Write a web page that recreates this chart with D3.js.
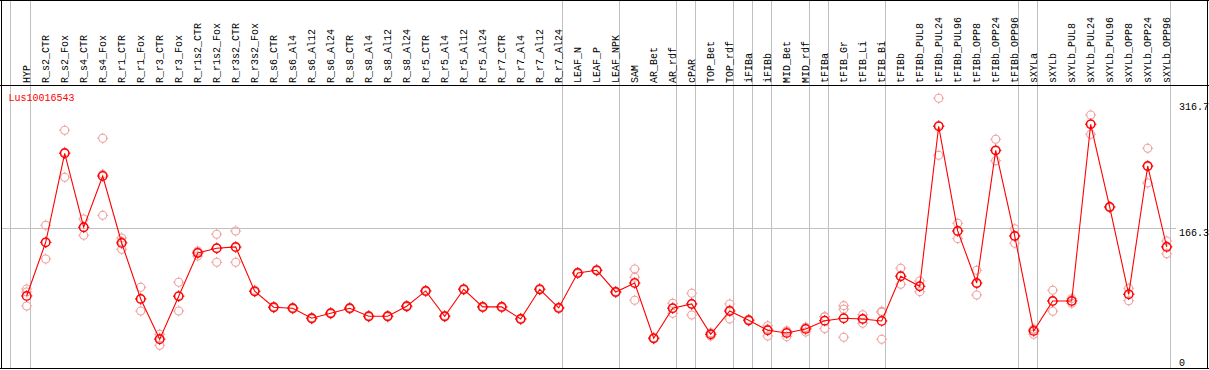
<!DOCTYPE html>
<html>
<head>
<meta charset="utf-8">
<script src="https://cdnjs.cloudflare.com/ajax/libs/d3/7.8.5/d3.min.js"></script>
<style>
  body { margin: 0; background: #fff; }
  svg text { font-family: "Liberation Mono", "DejaVu Sans Mono", monospace; font-size: 10px; }
</style>
</head>
<body>
<script>
var gene = "Lus10016543";

var samples = ["HYP",
  "R_s2_CTR", "R_s2_Fox", "R_s4_CTR", "R_s4_Fox", "R_r1_CTR", "R_r1_Fox", "R_r3_CTR", "R_r3_Fox",
  "R_r1s2_CTR", "R_r1s2_Fox", "R_r3s2_CTR", "R_r3s2_Fox",
  "R_s6_CTR", "R_s6_Al4", "R_s6_Al12", "R_s6_Al24", "R_s8_CTR", "R_s8_Al4", "R_s8_Al12", "R_s8_Al24",
  "R_r5_CTR", "R_r5_Al4", "R_r5_Al12", "R_r5_Al24", "R_r7_CTR", "R_r7_Al4", "R_r7_Al12", "R_r7_Al24",
  "LEAF_N", "LEAF_P", "LEAF_NPK",
  "SAM", "AR_Bet", "AR_rdf",
  "cPAR",
  "TOP_Bet", "TOP_rdf",
  "iFIBa",
  "iFIBb",
  "MID_Bet", "MID_rdf",
  "tFIBa",
  "tFIB_Gr", "tFIB_Li", "tFIB_Bi",
  "tFIBb", "tFIBb_PUL8", "tFIBb_PUL24", "tFIBb_PUL96", "tFIBb_OPP8", "tFIBb_OPP24", "tFIBb_OPP96",
  "sXYLa",
  "sXYLb", "sXYLb_PUL8", "sXYLb_PUL24", "sXYLb_PUL96", "sXYLb_OPP8", "sXYLb_OPP24", "sXYLb_OPP96"];

// number of samples in each block (grey separators between blocks)
var groupSizes = [1, 28, 3, 3, 1, 2, 1, 1, 2, 1, 3, 7, 1, 7];

var means = [88.0,
  150.1, 253.1, 167.5, 226.8, 149.3, 84.5, 37.9, 87.6,
  137.7, 143.2, 144.7, 93.4,
  74.9, 73.8, 62.2, 68.0, 73.8, 64.5, 64.5, 76.1,
  93.8, 64.5, 95.7, 75.3, 75.3, 61.4, 95.7, 74.1,
  114.6, 117.7, 92.6,
  103.0, 39.0, 73.8,
  78.7,
  43.7, 70.6,
  59.9,
  48.3,
  45.2, 49.8,
  59.4,
  62.2, 61.4, 59.1,
  110.8, 99.2, 284.3, 163.2, 103.0, 256.5, 157.4,
  47.5,
  82.2, 82.2, 286.6, 190.9, 89.9, 238.4, 144.7];

var replicates = [[96.1, 92.6, 76.4],
  [169.8, 149.7, 130.8], [279.7, 254.3, 225.3], [177.1, 167.2, 158.2], [270.4, 228.7, 181.3],
  [155.1, 150.8, 142.0], [98.0, 84.9, 70.6], [43.7, 39.1, 30.9], [103.8, 88.4, 70.6],
  [140.0, 138.9, 134.2], [159.4, 143.2, 127.0], [163.2, 143.9, 127.0], [94.5, 93.1, 92.6],
  [75.8, 74.7, 74.2], [74.6, 73.8, 73.0], [63.0, 62.2, 61.4], [68.8, 68.0, 67.2],
  [74.6, 73.8, 73.0], [65.3, 64.5, 63.7], [65.3, 64.5, 63.7], [76.9, 76.1, 75.3],
  [94.6, 93.8, 93.0], [65.3, 64.5, 63.7], [96.5, 95.7, 94.9], [76.1, 75.3, 74.5],
  [76.1, 75.3, 74.5], [62.2, 61.4, 60.6], [96.5, 95.7, 94.9], [74.9, 74.1, 73.3],
  [115.4, 114.6, 113.8], [118.5, 117.7, 116.9], [93.4, 92.6, 91.8],
  [119.2, 109.6, 83.0], [39.8, 39.0, 38.2], [79.5, 73.9, 68.0],
  [91.1, 79.0, 66.0],
  [45.5, 43.9, 41.7], [78.7, 71.7, 61.4],
  [60.7, 59.9, 59.1],
  [53.6, 49.6, 41.7],
  [47.8, 46.9, 40.9], [51.8, 51.3, 46.3],
  [64.0, 64.0, 50.2],
  [76.8, 72.6, 40.2], [66.3, 61.5, 56.4], [70.3, 69.1, 37.9],
  [120.0, 110.9, 101.5], [105.3, 99.3, 93.0], [316.7, 285.4, 250.8], [172.1, 163.2, 154.3],
  [117.7, 102.2, 89.1], [269.3, 255.7, 244.5], [165.8, 157.4, 149.0],
  [49.5, 49.3, 43.7],
  [94.6, 81.7, 70.3], [84.9, 82.2, 79.5], [297.4, 287.3, 275.1], [191.5, 191.2, 190.0],
  [96.9, 90.3, 82.5], [258.9, 237.6, 218.7], [151.6, 145.6, 136.9]];

var yTicks = [0, 166.3, 316.7];
var midLine = 166.3;

var width = 1209, height = 370;

var svg = d3.select("body").append("svg")
  .attr("width", width)
  .attr("height", height);

var x = d3.scalePoint().domain(samples).range([26.7, 1166.7]);
var y = d3.scaleLinear().domain([0, 316.7]).range([372, 98.3]);

var px = function(v){ return Math.floor(v) + 0.5; };

// grey block separators
var ends = [];
var acc = 0;
groupSizes.forEach(function(n){ acc += n; ends.push(acc - 1); });
var sepX = [x(samples[0]) - 16].concat(ends.map(function(i){ return x(samples[i]) + 4; }));

svg.append("g").selectAll("line").data(sepX).enter().append("line")
  .attr("x1", function(d){ return px(d); })
  .attr("x2", function(d){ return px(d); })
  .attr("y1", 0).attr("y2", 368)
  .style("stroke", "#c0c0c0")
  .style("stroke-width", 1)
  .style("shape-rendering", "crispEdges");

// grey horizontal line
svg.append("line")
  .attr("x1", 1).attr("x2", 1176)
  .attr("y1", px(y(midLine))).attr("y2", px(y(midLine)))
  .style("stroke", "#c0c0c0")
  .style("shape-rendering", "crispEdges");

// frame
var frame = svg.append("g")
  .style("stroke", "#000")
  .style("stroke-width", 1)
  .style("shape-rendering", "crispEdges");
frame.append("line").attr("x1", 0).attr("x2", 1209).attr("y1", 0.5).attr("y2", 0.5);
frame.append("line").attr("x1", 0).attr("x2", 1209).attr("y1", 85.5).attr("y2", 85.5);
frame.append("line").attr("x1", 0).attr("x2", 1209).attr("y1", 368.5).attr("y2", 368.5);
frame.append("line").attr("x1", 1.5).attr("x2", 1.5).attr("y1", 0).attr("y2", 369);
frame.append("line").attr("x1", 1207.5).attr("x2", 1207.5).attr("y1", 0).attr("y2", 369);

// sample labels
svg.append("g").selectAll("text").data(samples).enter().append("text")
  .attr("transform", function(d){ return "translate(" + x(d) + ",83) rotate(-90)"; })
  .attr("dy", "0.35em")
  .style("fill", "#000")
  .text(function(d){ return d; });

// y labels
svg.append("g").selectAll("text").data(yTicks).enter().append("text")
  .attr("x", 1179)
  .attr("y", function(d){ return Math.max(102, Math.min(358, y(d))) + 8; })
  .style("fill", "#000")
  .text(function(d){ return d === 0 ? "0" : d.toFixed(1); });

// gene name
svg.append("text")
  .attr("x", 8.5).attr("y", 101)
  .style("fill", "#ff0000")
  .text(gene);

// marker: ring with four small nubs
var marker = function(g, cx, cy, r, color, sw){
  g.append("circle")
    .attr("cx", cx).attr("cy", cy).attr("r", r)
    .style("fill", "none")
    .style("stroke", color)
    .style("stroke-width", sw);
  var n = r + 1.5;
  g.append("path")
    .attr("d", "M" + cx + "," + (cy - r) + "V" + (cy - n) +
               "M" + cx + "," + (cy + r) + "V" + (cy + n) +
               "M" + (cx - r) + "," + cy + "H" + (cx - n) +
               "M" + (cx + r) + "," + cy + "H" + (cx + n))
    .style("stroke", color)
    .style("stroke-width", 1);
};

// replicates
var repG = svg.append("g");
samples.forEach(function(s, i){
  replicates[i].forEach(function(v){
    marker(repG, x(s), y(v), 4, "#f0a0a0", 1.1);
  });
});

// mean line
var line = d3.line()
  .x(function(d, i){ return x(samples[i]); })
  .y(function(d){ return y(d); });

svg.append("path")
  .datum(means)
  .attr("d", line)
  .style("fill", "none")
  .style("stroke", "#ff0000")
  .style("stroke-width", 1.1);

var meanG = svg.append("g");
samples.forEach(function(s, i){
  marker(meanG, x(s), y(means[i]), 4.2, "#ff0000", 1.4);
});
</script>
</body>
</html>
